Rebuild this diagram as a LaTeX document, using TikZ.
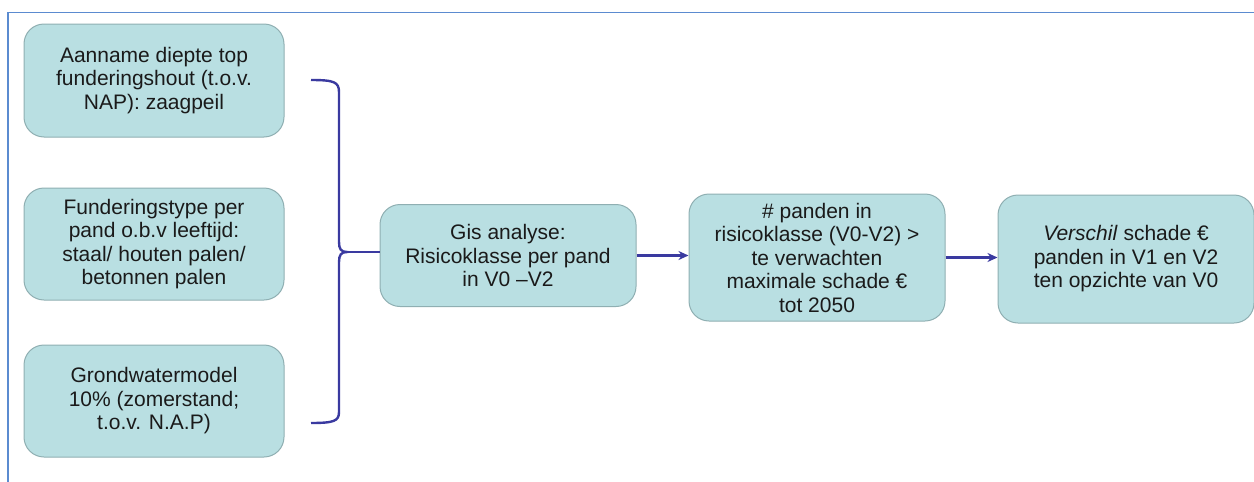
\documentclass[tikz,border=0pt]{standalone}
\usepackage{fontspec}
\setmainfont{Liberation Sans}
\usetikzlibrary{arrows.meta}
\definecolor{boxfill}{HTML}{B9DFE2}
\definecolor{boxdraw}{HTML}{8FAFB2}
\definecolor{linkcol}{HTML}{3A3AA0}
\definecolor{framecol}{HTML}{5B8BD0}
\definecolor{txtcol}{HTML}{1A1A1A}
\tikzset{
  stepbox/.style={draw=boxdraw, fill=boxfill, line width=1pt, rounded corners=20pt,
    minimum width=256pt, align=center, text=txtcol,
    font=\fontsize{21}{23.5}\selectfont, inner sep=2pt},
  link/.style={draw=linkcol, line width=2.4pt, -{Stealth[length=10pt,width=9pt]}},
  bracket/.style={draw=linkcol, line width=2.4pt},
}
\begin{document}
\begin{tikzpicture}[x=1pt,y=-1pt]
\useasboundingbox (0,0) rectangle (1254,482);
\draw[framecol, line width=1.5pt] (8,482) -- (8,12.5) -- (1254,12.5);

\node[stepbox, minimum width=260pt, minimum height=113pt] (b1) at (154,80.5)
  {Aanname diepte top\\funderingshout (t.o.v.\\NAP): zaagpeil};
\node[stepbox, minimum width=260pt, minimum height=112pt] (b2) at (154,244)
  {Funderingstype per\\pand o.b.v leeftijd:\\staal/ houten palen/\\betonnen palen};
\node[stepbox, minimum width=260pt, minimum height=112pt] (b3) at (154,401)
  {Grondwatermodel\\10\% (zomerstand;\\t.o.v. N.A.P)};
\node[stepbox, minimum height=102pt] (b4) at (508,255.5)
  {Gis analyse:\\Risicoklasse per pand\\in V0 --V2};
\node[stepbox, minimum height=127pt] (b5) at (817,257.5)
  {\# panden in\\risicoklasse (V0-V2) >\\te verwachten\\maximale schade €\\tot 2050};
\node[stepbox, minimum height=128pt] (b6) at (1126,259)
  {\textit{Verschil} schade €\\panden in V1 en V2\\ten opzichte van V0};

\coordinate (bt) at (311,80);
\coordinate (bb) at (311,423);
\coordinate (tip) at (347,252);
\draw[bracket] (bt) .. controls (334,80) and (339,82) .. (339,92)
  -- (339,242) .. controls (339,249) and (341,252) .. (tip)
  .. controls (341,252) and (339,255) .. (339,262)
  -- (339,412) .. controls (339,421) and (334,423) .. (bb);
\draw[bracket] (tip) -- (tip -| b4.west);

\draw[link] (b4.east) -- (b4.east -| b5.west);
\draw[link] (b5.east) -- (b5.east -| b6.west);
\end{tikzpicture}
\end{document}
